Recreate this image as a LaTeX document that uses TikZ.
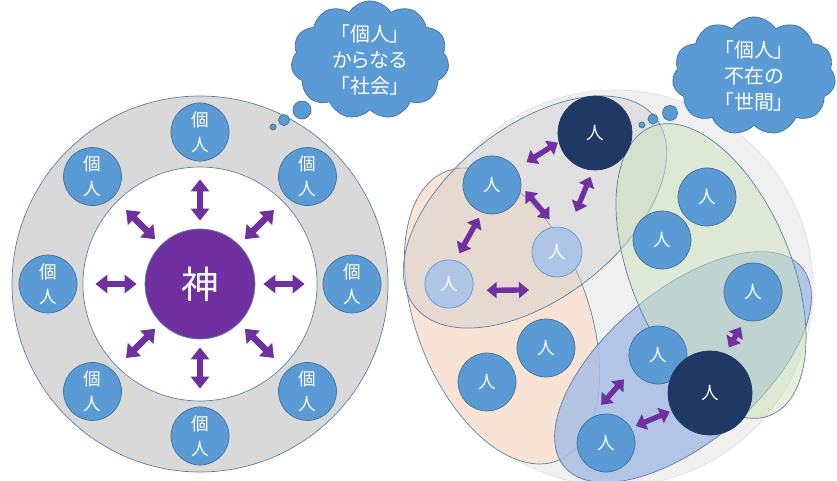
\documentclass[tikz,border=0pt]{standalone}
\usepackage{fontspec}
\newfontfamily\jp{Noto Sans CJK JP}
\newfontfamily\jpp{Noto Sans CJK JP}[RawFeature=+palt]
\usepackage{xcolor}
\usetikzlibrary{arrows.meta,shapes.symbols,calc}

\definecolor{pessoa}{RGB}{91,155,213}
\definecolor{borda}{RGB}{65,113,156}
\definecolor{claro}{RGB}{175,197,230}
\definecolor{marinho}{RGB}{31,56,100}
\definecolor{roxo}{RGB}{112,48,160}
\definecolor{anel}{RGB}{217,217,217}
\definecolor{fundo}{RGB}{240,240,240}
\definecolor{pessego}{RGB}{251,226,210}
\definecolor{cinza}{RGB}{205,205,205}
\definecolor{verde}{RGB}{204,226,188}
\definecolor{azul}{RGB}{168,190,229}
\definecolor{contorno}{RGB}{90,128,165}

\begin{document}
\begin{tikzpicture}[x=0.03cm,y=-0.03cm,
    kojin/.style={circle,fill=pessoa,draw=borda,line width=0.6pt,minimum size=1.74cm,
      inner sep=0pt,text=white,align=center,font=\jp\fontsize{15}{21}\selectfont},
    hito/.style={kojin,font=\jp\fontsize{15}{18}\selectfont},
    deus/.style={circle,fill=roxo,draw=contorno,line width=0.6pt,minimum size=3.3cm,
      inner sep=0pt,text=white,font=\jp\fontsize{32}{32}\selectfont},
    biarrow/.style={roxo,line width=0.16cm,
      {Triangle[width=0.48cm,length=0.3cm]}-{Triangle[width=0.48cm,length=0.3cm]}},
    bigarrow/.style={roxo,line width=0.2cm,
      {Triangle[width=0.54cm,length=0.36cm]}-{Triangle[width=0.54cm,length=0.36cm]}},
    kumo/.style={cloud,cloud puffs=11,cloud puff arc=115,aspect=1.5,fill=pessoa,
      draw=borda,line width=0.6pt,inner sep=0pt,text=white,align=center,
      font=\jpp\fontsize{17}{22}\selectfont},
    elipse/.style={draw=contorno,line width=0.6pt}]
    \useasboundingbox (0,0) rectangle (837,481);

    % Sociedade de individuos: anel em torno de Deus
    \coordinate (C) at (200,284);
    \draw[contorno, fill=anel, line width=0.6pt] (C) circle (188);
    \draw[contorno, fill=white, line width=0.6pt] (C) circle (117);
    \node[deus] (deus) at (C) {神};
    \foreach \a [count=\i] in {90,45,0,-45,-90,-135,180,135}{
        \node[kojin] (k\i) at ($(C)+(\a:152)$) {個\\人};
        \draw[bigarrow, shorten <=0.24cm, shorten >=0.54cm] (deus) -- (k\i);
    }

    % Seken: elipses sobrepostas com transparencia
    \coordinate (R) at (615,288);
    \draw[draw=gray!25, fill=fundo, line width=0.6pt] (R) circle (198);
    \draw[elipse, fill=pessego, fill opacity=0.9, rotate around={-69:(502,316)}] (502,316) ellipse (155 and 86);
    \draw[elipse, fill=cinza, fill opacity=0.45, rotate around={38:(535,212)}] (535,212) ellipse (153 and 86);
    \draw[elipse, fill=azul, fill opacity=0.85, rotate around={40:(683,367)}] (683,367) ellipse (155 and 76);
    \draw[elipse, fill=verde, fill opacity=0.5, rotate around={-67.5:(711,271)}] (711,271) ellipse (156 and 80);

    % Pessoas
    \node[hito, fill=marinho, draw=marinho, minimum size=2.22cm] (n1) at (595,133) {人};
    \node[hito] (b1) at (492,185) {人};
    \node[hito, fill=claro, draw=pessoa, minimum size=1.5cm] (c1) at (557,252) {人};
    \node[hito, fill=claro, draw=pessoa, minimum size=1.45cm] (c2) at (449,284) {人};
    \node[hito] (g1) at (707,197) {人};
    \node[hito] (g2) at (662,240) {人};
    \node[hito] (a1) at (753,292) {人};
    \node[hito] (o1) at (546,348) {人};
    \node[hito] (o2) at (487,382) {人};
    \node[hito] (a2) at (658,355) {人};
    \node[hito, fill=marinho, draw=marinho, minimum size=2.52cm] (n2) at (710,393) {人};
    \node[hito] (a3) at (606,443) {人};

    % Relacoes
    \draw[biarrow, shorten <=0.03cm, shorten >=0.36cm] (n1.194) -- (b1.34);
    \draw[biarrow, shorten <=0.18cm, shorten >=0.3cm] (b1.357) -- (c1.92);
    \draw[biarrow, shorten <=0.21cm, shorten >=0.57cm] (n1.267) -- (c1.63);
    \draw[biarrow, shorten <=0.18cm, shorten >=0.24cm] (b1.250) -- (c2.75);
    \coordinate (h) at (529,290);
    \draw[biarrow, shorten <=0.42cm] (c2.-15) -- (h);
    \draw[biarrow, shorten <=0.24cm, shorten >=0.21cm] (a1.254) -- (n2.69);
    \draw[biarrow, shorten <=0.39cm, shorten >=0.63cm] (a2.210) -- (a3.130);
    \draw[biarrow, shorten <=0.15cm, shorten >=0.06cm] (a3.31) -- (n2.205);

    % Baloes de pensamento
    \node[kumo, minimum width=4.5cm, minimum height=3.3cm] (nuvemA) at (370,60) {「個人」\\からなる\\「社会」};
    \filldraw[fill=pessoa, draw=borda, line width=0.6pt] (302,110) circle (9) (284,120) circle (5.5) (273,127) circle (3);
    \node[kumo, minimum width=4.9cm, minimum height=3.3cm] (nuvemB) at (754,76) {「個人」\\不在の\\「世間」};
    \filldraw[fill=pessoa, draw=borda, line width=0.6pt] (670,113) circle (7.5) (653,119) circle (5) (642,125) circle (3);
\end{tikzpicture}
\end{document}
